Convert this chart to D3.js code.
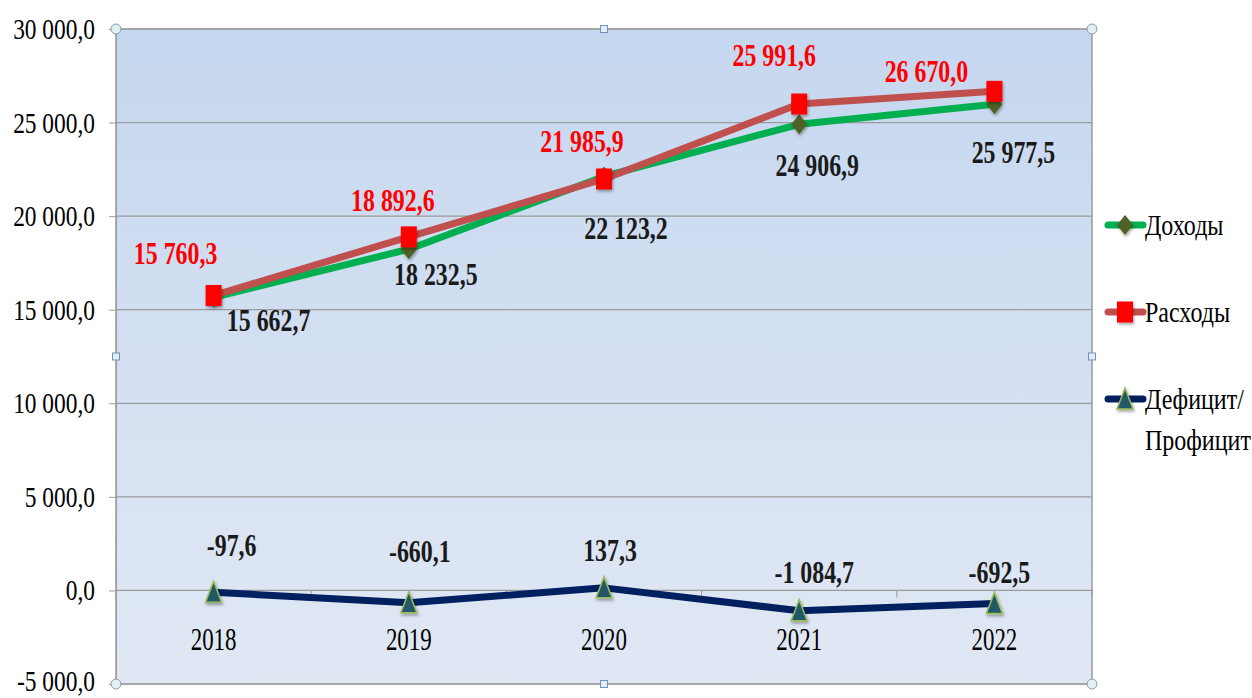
<!DOCTYPE html>
<html>
<head>
<meta charset="utf-8">
<script src="https://cdn.jsdelivr.net/npm/d3@7"></script>
<style>
  html, body { margin: 0; padding: 0; background: #fff; }
  svg { display: block; font-family: 'Liberation Serif', 'Times New Roman', serif; }
</style>
</head>
<body>
<svg id="chart" width="1252" height="698"></svg>
<script>
// Values
const years = ['2018', '2019', '2020', '2021', '2022'];
const income = [15662.7, 18232.5, 22123.2, 24906.9, 25977.5];
const expenses = [15760.3, 18892.6, 21985.9, 25991.6, 26670.0];
const balance = [-97.6, -660.1, 137.3, -1084.7, -692.5];
const yTicks = [-5000, 0, 5000, 10000, 15000, 20000, 25000, 30000];
const legendLabels = [['Доходы'], ['Расходы'], ['Дефицит/', 'Профицит']];

// Hand-placed data label offsets (dx, dy from the point), as in the original
const incomeNudge = [[55, 23], [27, 25], [22, 52], [18, 41], [19, 48]];
const expensesNudge = [[-38, -42], [-16, -37], [-22, -38], [-25, -49], [-68, -20]];
const balanceNudge = [[18, -47], [11, -51], [6, -38], [15, -38], [5, -31]];

const plot = { left: 116, right: 1092, top: 29, bottom: 684 };

const locale = d3.formatLocale({
  decimal: ',', thousands: '\u00a0', grouping: [3], currency: ['', ''], minus: '-'
});
const fmt = locale.format(',.1f');

const svg = d3.select('#chart');
const defs = svg.append('defs');

const grad = defs.append('linearGradient')
  .attr('id', 'bg').attr('x1', 0).attr('y1', 0).attr('x2', 0).attr('y2', 1);
grad.append('stop').attr('offset', '0%').attr('stop-color', '#c5d7ef');
grad.append('stop').attr('offset', '100%').attr('stop-color', '#e1e8f4');

const shadow = defs.append('filter').attr('id', 'shadow')
  .attr('x', '-50%').attr('y', '-50%').attr('width', '200%').attr('height', '200%');
shadow.append('feDropShadow')
  .attr('dx', 1).attr('dy', 2).attr('stdDeviation', 1.5)
  .attr('flood-color', '#000').attr('flood-opacity', 0.35);

const x = d3.scaleBand()
  .domain(years)
  .range([plot.left, plot.right]);
const cx = d => x(d) + x.bandwidth() / 2;

const y = d3.scaleLinear()
  .domain([-5000, 30000])
  .range([plot.bottom, plot.top]);

// text squeezed horizontally, like the original rendering
function label (g, txt, px, py, opts) {
  const o = Object.assign({ size: 30, sx: 0.78, weight: 'normal', fill: '#000', anchor: 'middle' }, opts);
  g.append('text')
    .attr('transform', `translate(${px},${py}) scale(${o.sx},1)`)
    .attr('text-anchor', o.anchor)
    .attr('dominant-baseline', 'central')
    .attr('font-size', o.size)
    .attr('font-weight', o.weight)
    .attr('fill', o.fill)
    .text(txt);
}

// Plot background
svg.append('rect')
  .attr('x', plot.left).attr('y', plot.top)
  .attr('width', plot.right - plot.left).attr('height', plot.bottom - plot.top)
  .attr('fill', 'url(#bg)');

// Gridlines
svg.append('g').selectAll('line')
  .data(yTicks)
  .join('line')
  .attr('x1', plot.left).attr('x2', plot.right)
  .attr('y1', d => y(d)).attr('y2', d => y(d))
  .attr('stroke', '#9b9b9b').attr('stroke-width', 1.2);

// Plot border
svg.append('rect')
  .attr('x', plot.left).attr('y', plot.top)
  .attr('width', plot.right - plot.left).attr('height', plot.bottom - plot.top)
  .attr('fill', 'none').attr('stroke', '#9b9b9b').attr('stroke-width', 1.5);

// Y axis
const yAxis = svg.append('g')
  .attr('transform', `translate(${plot.left},0)`)
  .call(d3.axisLeft(y).tickValues(yTicks).tickSize(7).tickFormat(() => ''));
yAxis.select('.domain').attr('stroke', '#9b9b9b');
yAxis.selectAll('.tick line').attr('stroke', '#9b9b9b');
const yLabels = svg.append('g');
yTicks.forEach(t => label(yLabels, fmt(t), 95, Math.min(y(t), 681), { anchor: 'end' }));

// X axis on the zero line, ticks between categories
const xAxis = svg.append('g')
  .attr('transform', `translate(0,${y(0)})`);
xAxis.selectAll('line')
  .data(years.concat(['end']))
  .join('line')
  .attr('x1', (d, i) => plot.left + i * x.step())
  .attr('x2', (d, i) => plot.left + i * x.step())
  .attr('y1', 0).attr('y2', 7)
  .attr('stroke', '#9b9b9b');
const xLabels = svg.append('g');
years.forEach(yr => label(xLabels, yr, cx(yr), 640, { size: 31, sx: 0.74 }));

// Series
const series = [
  { values: income, color: '#00b050', marker: 'diamond', labelColor: '#1a1a1a', nudge: incomeNudge },
  { values: expenses, color: '#c0504d', marker: 'square', labelColor: '#ff0000', nudge: expensesNudge },
  { values: balance, color: '#002060', marker: 'triangle', labelColor: '#1a1a1a', nudge: balanceNudge }
];

function drawMarker (g, type, px, py) {
  if (type === 'square') {
    g.append('rect')
      .attr('x', px - 8).attr('y', py - 10.5).attr('width', 16).attr('height', 21)
      .attr('fill', '#ff0000').attr('filter', 'url(#shadow)');
  } else if (type === 'diamond') {
    g.append('path')
      .attr('d', `M${px},${py - 10}L${px + 8},${py}L${px},${py + 10}L${px - 8},${py}Z`)
      .attr('fill', '#4f6228').attr('filter', 'url(#shadow)');
  } else {
    g.append('path')
      .attr('d', `M${px},${py - 11}L${px + 8},${py + 10}L${px - 8},${py + 10}Z`)
      .attr('fill', '#215868').attr('stroke', '#9bbb59').attr('stroke-width', 1.5)
      .attr('filter', 'url(#shadow)');
  }
}

const line = d3.line()
  .x((d, i) => cx(years[i]))
  .y(d => y(d));

const marks = svg.append('g');
series.forEach(s => {
  const g = marks.append('g');
  g.append('path')
    .attr('d', line(s.values))
    .attr('fill', 'none')
    .attr('stroke', s.color)
    .attr('stroke-width', 7)
    .attr('stroke-linejoin', 'round');
  s.values.forEach((v, i) => drawMarker(g, s.marker, cx(years[i]), y(v)));
});

// Data labels
const dataLabels = svg.append('g');
series.forEach(s => {
  s.values.forEach((v, i) => {
    label(dataLabels, fmt(v), cx(years[i]) + s.nudge[i][0], y(v) + s.nudge[i][1],
      { size: 31, sx: 0.77, weight: 'bold', fill: s.labelColor });
  });
});

// Legend
const legend = svg.append('g');
const legendY = [225, 312, 399];
series.forEach((s, i) => {
  const ly = legendY[i];
  legend.append('line')
    .attr('x1', 1108).attr('x2', 1143).attr('y1', ly).attr('y2', ly)
    .attr('stroke', s.color).attr('stroke-width', 7).attr('stroke-linecap', 'round');
  drawMarker(legend, s.marker, 1125, ly);
  legendLabels[i].forEach((t, j) => {
    label(legend, t, 1145, ly + j * 41, { size: 30, sx: 0.8, anchor: 'start' });
  });
});

// Chart selection handles
const handles = svg.append('g');
[[plot.left, plot.top], [plot.right, plot.top], [plot.left, plot.bottom], [plot.right, plot.bottom]]
  .forEach(([hx, hy]) => {
    handles.append('circle')
      .attr('cx', hx).attr('cy', hy).attr('r', 5)
      .attr('fill', '#dff1f1').attr('stroke', '#8a9aa8').attr('stroke-width', 1);
  });
[[(plot.left + plot.right) / 2, plot.top], [(plot.left + plot.right) / 2, plot.bottom],
  [plot.left, (plot.top + plot.bottom) / 2], [plot.right, (plot.top + plot.bottom) / 2]]
  .forEach(([hx, hy]) => {
    handles.append('rect')
      .attr('x', hx - 3.5).attr('y', hy - 3.5).attr('width', 7).attr('height', 7)
      .attr('fill', '#e4eefa').attr('stroke', '#6f93c0').attr('stroke-width', 1);
  });
</script>
</body>
</html>
